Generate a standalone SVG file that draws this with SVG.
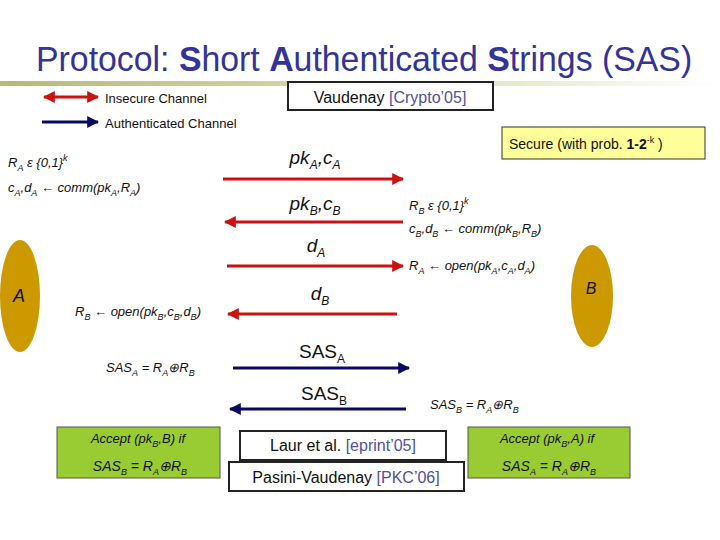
<svg xmlns="http://www.w3.org/2000/svg" width="720" height="540" viewBox="0 0 720 540">
<defs>
<linearGradient id="bar" x1="0" x2="1"><stop offset="0" stop-color="#B8B878"/><stop offset="0.5" stop-color="#D8D8B0"/><stop offset="1" stop-color="#FFFFFF"/></linearGradient>
<marker id="ar" viewBox="0 0 10 10" refX="9" refY="5" markerWidth="4" markerHeight="4" orient="auto-start-reverse"><path d="M0,0L10,5L0,10z" fill="#CC1111"/></marker>
<marker id="ab" viewBox="0 0 10 10" refX="9" refY="5" markerWidth="4" markerHeight="4" orient="auto-start-reverse"><path d="M0,0L10,5L0,10z" fill="#0A0A60"/></marker>
<style>
.t{font-family:"Liberation Sans",Arial,sans-serif;fill:#111}
.i{font-style:italic}
.r{stroke:#CC1111;stroke-width:3;fill:none}
.b{stroke:#0A0A60;stroke-width:3;fill:none}
.box{fill:#fff;stroke:#222;stroke-width:2}
.g{fill:#99CC33;stroke:#555;stroke-width:1}
.ref{fill:#5050A0}
</style>
</defs>
<rect width="720" height="540" fill="#fff"/>
<rect x="0" y="81" width="720" height="5" fill="url(#bar)"/>
<text transform="translate(36,71) scale(0.94,1)" x="0" y="0" font-family="Liberation Sans,sans-serif" font-size="36" fill="#333399">Protocol: <tspan font-weight="bold">S</tspan>hort <tspan font-weight="bold">A</tspan>uthenticated <tspan font-weight="bold">S</tspan>trings (SAS)</text>

<g id="legend">
<line x1="44" y1="97" x2="98" y2="97" class="r" marker-start="url(#ar)" marker-end="url(#ar)"/>
<line x1="42" y1="122" x2="98" y2="122" class="b" marker-end="url(#ab)"/>
<text x="105" y="103" class="t" font-size="13">Insecure Channel</text>
<text x="105" y="128" class="t" font-size="13">Authenticated Channel</text>
</g>
<g id="vaudenay"><rect x="288" y="82" width="205" height="28" class="box"/><text x="390" y="103" class="t" font-size="16" text-anchor="middle">Vaudenay <tspan class="ref">[Crypto’05]</tspan></text></g>
<g id="secure"><rect x="502" y="127" width="203" height="32" fill="#FFFF99" stroke="#333" stroke-width="1"/><text x="509" y="149" class="t" font-size="14">Secure (with prob. <tspan font-weight="bold">1-2</tspan><tspan font-size="9" dy="-6">-k</tspan><tspan dy="6"> )</tspan></text></g>

<g id="A"><ellipse cx="20" cy="296" rx="20" ry="56" fill="#CC9900"/><text x="19" y="302" class="t i" font-size="18" text-anchor="middle">A</text></g>
<g id="B"><ellipse cx="592" cy="296" rx="21" ry="51" fill="#CC9900"/><text x="591" y="294" class="t i" font-size="16" text-anchor="middle">B</text></g>

<g id="connectors">
<line x1="223" y1="179" x2="403" y2="179" class="r" marker-end="url(#ar)"/>
<line x1="403" y1="222" x2="225" y2="222" class="r" marker-end="url(#ar)"/>
<line x1="227" y1="266" x2="403" y2="266" class="r" marker-end="url(#ar)"/>
<line x1="397" y1="314" x2="228" y2="314" class="r" marker-end="url(#ar)"/>
<line x1="233" y1="368" x2="409" y2="368" class="b" marker-end="url(#ab)"/>
<line x1="406" y1="409" x2="230" y2="409" class="b" marker-end="url(#ab)"/>
</g>

<g class="t i" font-size="19" text-anchor="middle">
<text x="315" y="164">pk<tspan font-size="12" dy="5">A</tspan><tspan dy="-5">,c</tspan><tspan font-size="12" dy="5">A</tspan></text>
<text x="315" y="210">pk<tspan font-size="12" dy="5">B</tspan><tspan dy="-5">,c</tspan><tspan font-size="12" dy="5">B</tspan></text>
<text x="316" y="252">d<tspan font-size="12" dy="5">A</tspan></text>
<text x="320" y="300">d<tspan font-size="12" dy="5">B</tspan></text>
<text x="322" y="358" font-style="normal">SAS<tspan font-size="12" dy="5">A</tspan></text>
<text x="324" y="400" font-style="normal">SAS<tspan font-size="12" dy="5">B</tspan></text>
</g>

<g class="t i" font-size="13">
<text x="8" y="167">R<tspan font-size="9" dy="4">A</tspan><tspan dy="-4"> ε {0,1}</tspan><tspan font-size="9" dy="-6">k</tspan></text>
<text x="8" y="192">c<tspan font-size="9" dy="4">A</tspan><tspan dy="-4">,d</tspan><tspan font-size="9" dy="4">A</tspan><tspan dy="-4"> ← comm(pk</tspan><tspan font-size="9" dy="4">A</tspan><tspan dy="-4">,R</tspan><tspan font-size="9" dy="4">A</tspan><tspan dy="-4">)</tspan></text>
<text x="409" y="210">R<tspan font-size="9" dy="4">B</tspan><tspan dy="-4"> ε {0,1}</tspan><tspan font-size="9" dy="-6">k</tspan></text>
<text x="409" y="233">c<tspan font-size="9" dy="4">B</tspan><tspan dy="-4">,d</tspan><tspan font-size="9" dy="4">B</tspan><tspan dy="-4"> ← comm(pk</tspan><tspan font-size="9" dy="4">B</tspan><tspan dy="-4">,R</tspan><tspan font-size="9" dy="4">B</tspan><tspan dy="-4">)</tspan></text>
<text x="409" y="270">R<tspan font-size="9" dy="4">A</tspan><tspan dy="-4"> ← open(pk</tspan><tspan font-size="9" dy="4">A</tspan><tspan dy="-4">,c</tspan><tspan font-size="9" dy="4">A</tspan><tspan dy="-4">,d</tspan><tspan font-size="9" dy="4">A</tspan><tspan dy="-4">)</tspan></text>
<text x="75" y="316">R<tspan font-size="9" dy="4">B</tspan><tspan dy="-4"> ← open(pk</tspan><tspan font-size="9" dy="4">B</tspan><tspan dy="-4">,c</tspan><tspan font-size="9" dy="4">B</tspan><tspan dy="-4">,d</tspan><tspan font-size="9" dy="4">B</tspan><tspan dy="-4">)</tspan></text>
<text x="106" y="372">SAS<tspan font-size="9" dy="4">A</tspan><tspan dy="-4"> = R</tspan><tspan font-size="9" dy="4">A</tspan><tspan dy="-4">⊕R</tspan><tspan font-size="9" dy="4">B</tspan></text>
<text x="430" y="409">SAS<tspan font-size="9" dy="4">B</tspan><tspan dy="-4"> = R</tspan><tspan font-size="9" dy="4">A</tspan><tspan dy="-4">⊕R</tspan><tspan font-size="9" dy="4">B</tspan></text>
</g>

<g id="acceptA"><rect x="57" y="427" width="163" height="51" class="g"/>
<text x="138" y="443" class="t i" font-size="13" text-anchor="middle">Accept (pk<tspan font-size="9" dy="4">B</tspan><tspan dy="-4">,B) if</tspan></text>
<text x="140" y="471" class="t i" font-size="14" text-anchor="middle">SAS<tspan font-size="9" dy="4">B</tspan><tspan dy="-4"> = R</tspan><tspan font-size="9" dy="4">A</tspan><tspan dy="-4">⊕R</tspan><tspan font-size="9" dy="4">B</tspan></text></g>
<g id="acceptB"><rect x="468" y="427" width="162" height="51" class="g"/>
<text x="547" y="443" class="t i" font-size="13" text-anchor="middle">Accept (pk<tspan font-size="9" dy="4">B</tspan><tspan dy="-4">,A) if</tspan></text>
<text x="549" y="471" class="t i" font-size="14" text-anchor="middle">SAS<tspan font-size="9" dy="4">A</tspan><tspan dy="-4"> = R</tspan><tspan font-size="9" dy="4">A</tspan><tspan dy="-4">⊕R</tspan><tspan font-size="9" dy="4">B</tspan></text></g>
<g id="laur"><rect x="240" y="431" width="206" height="29" class="box"/><text x="343" y="451" class="t" font-size="16" text-anchor="middle">Laur et al. <tspan class="ref">[eprint’05]</tspan></text></g>
<g id="pasini"><rect x="229" y="462" width="235" height="29" class="box"/><text x="346" y="483" class="t" font-size="16" text-anchor="middle">Pasini-Vaudenay <tspan class="ref">[PKC’06]</tspan></text></g>
</svg>
